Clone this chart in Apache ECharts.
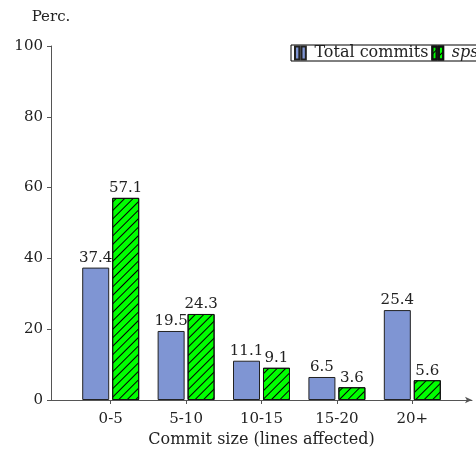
<!DOCTYPE html>
<html><head><meta charset="utf-8">
<script src="https://cdn.jsdelivr.net/npm/echarts@6/dist/echarts.min.js"></script>
<style>html,body{margin:0;padding:0;background:#fff}#c{width:476px;height:449px}</style>
</head><body><div id="c"></div>
<script>
const categories = ['0-5', '5-10', '10-15', '15-20', '20+'];
const totalCommits = [37.4, 19.5, 11.1, 6.5, 25.4];
const spsCommits = [57.1, 24.3, 9.1, 3.6, 5.6];
const yTicks = [0, 20, 40, 60, 80, 100];

const F = 'DejaVu Serif, Liberation Serif, serif';
const FS = 15;
const chart = echarts.init(document.getElementById('c'), null, {renderer: 'canvas'});
const twoBars = 'path://M0,0H4V12H0Z M6,0H10V12H6Z';
chart.setOption({
  animation: false,
  textStyle: {fontFamily: F},
  grid: [
    {left: 73, right: 26, top: 46, bottom: 49, containLabel: false, outerBoundsMode: 'none'},
    {left: 51, right: 4, top: 46, bottom: 49, containLabel: false, outerBoundsMode: 'none'}
  ],
  legend: {
    left: 291, top: 45, width: 400,
    orient: 'horizontal',
    itemWidth: 14, itemHeight: 13, itemGap: 3,
    padding: [0, 3, 0, 3],
    borderColor: '#000', borderWidth: 1,
    backgroundColor: '#fff',
    textStyle: {fontFamily: F, fontSize: 16, color: '#222', padding: [0, 0, 0, 2]},
    data: [
      {name: 'Total commits', icon: twoBars},
      {name: 'sps', icon: twoBars, textStyle: {fontStyle: 'italic'}}
    ]
  },
  xAxis: [
    {type: 'category', gridIndex: 0, data: categories,
     axisLine: {show: false},
     axisTick: {show: true, alignWithLabel: true, length: 4, lineStyle: {color: '#555'}},
     axisLabel: {fontFamily: F, fontSize: FS, color: '#222', margin: 12},
     name: 'Commit size (lines affected)', nameLocation: 'middle', nameGap: 32,
     nameTextStyle: {fontFamily: F, fontSize: 16, color: '#222'}},
    {type: 'value', gridIndex: 1, min: 0, max: 1,
     axisLine: {show: true, symbol: ['none', 'arrow'], symbolSize: [5, 7], lineStyle: {color: '#555', width: 1}},
     axisTick: {show: false}, axisLabel: {show: false}, splitLine: {show: false}}
  ],
  yAxis: [
    {type: 'value', gridIndex: 0, min: 0, max: 100, interval: 20, show: false},
    {type: 'value', gridIndex: 1, min: 0, max: 100, interval: 20,
     axisLine: {show: true, lineStyle: {color: '#555', width: 1}},
     axisTick: {show: true, length: 4, lineStyle: {color: '#555'}},
     axisLabel: {fontFamily: F, fontSize: FS, color: '#222', margin: 8,
       formatter: v => yTicks.includes(v) ? String(v) : ''},
     splitLine: {show: false},
     name: 'Perc.', nameLocation: 'end', nameGap: 21,
     nameTextStyle: {fontFamily: F, fontSize: FS, color: '#222'}}
  ],
  series: [
    {name: 'Total commits', type: 'bar', xAxisIndex: 0, yAxisIndex: 0,
     data: totalCommits, barWidth: 27, barGap: '11%',
     itemStyle: {color: '#7f95d3', borderColor: '#222', borderWidth: 1},
     label: {show: true, position: 'top', distance: 2, fontFamily: F, fontSize: FS, color: '#222'}},
    {name: 'sps', type: 'bar', xAxisIndex: 0, yAxisIndex: 0,
     data: spsCommits, barWidth: 27,
     itemStyle: {color: '#00ff00', borderColor: '#111', borderWidth: 1,
       decal: {symbol: 'rect', symbolSize: 1, dashArrayX: [[1, 0]], dashArrayY: [1, 5], rotation: -Math.PI / 4, color: '#000'}},
     label: {show: true, position: 'top', distance: 2, fontFamily: F, fontSize: FS, color: '#222'}}
  ]
});
</script></body></html>
